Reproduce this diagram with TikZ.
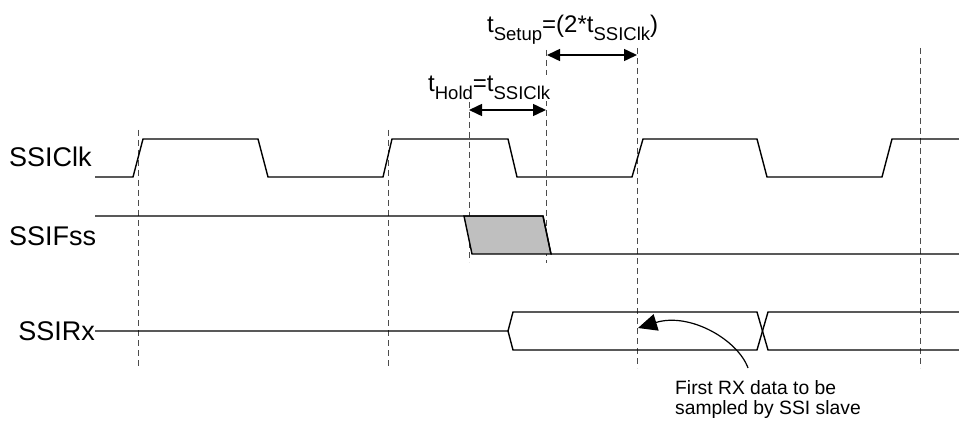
\documentclass[tikz,border=0pt]{standalone}
\usepackage{fontspec}
\setmainfont{Liberation Sans}
\usetikzlibrary{arrows.meta}
\newcommand{\lowsub}[1]{\raisebox{-7.5pt}{\fontsize{18.5}{18.5}\selectfont #1}}
\begin{document}
\begin{tikzpicture}[x=1pt,y=-1pt,
  wave/.style={line width=1.4pt, line join=miter, black},
  guide/.style={line width=0.9pt, dash pattern=on 6pt off 4pt, black!70},
  dimarrow/.style={line width=1.5pt, {Triangle[length=13pt,width=12pt]}-{Triangle[length=13pt,width=12pt]}},
  sig/.style={font=\fontsize{27}{27}\selectfont, anchor=base west, inner sep=0pt},
  tlabel/.style={font=\fontsize{24}{24}\selectfont, anchor=base west, inner sep=1pt, fill=white},
  note/.style={font=\fontsize{19.3}{20}\selectfont, anchor=north west, inner sep=0pt, align=left},
  shade/.style={fill=black!25, draw=black, line width=1.4pt}
]
\useasboundingbox (0,0) rectangle (959,425);
\fill[white] (0,0) rectangle (959,425);

% guide lines
\draw[guide] (138,130) -- (138,368);
\draw[guide] (388,130) -- (388,368);
\draw[guide] (469,102) -- (469,262);
\draw[guide] (546,50) -- (546,263);
\draw[guide] (637,48) -- (637,368);
\draw[guide] (920,48) -- (920,368);

% SSIClk
\draw[wave] (95,177) -- (133,177) -- (143,139) -- (258,139) -- (268,177) -- (383,177) -- (392,139)
  -- (508,139) -- (517,177) -- (632,177) -- (643,139) -- (757,139) -- (767,177) -- (882,177)
  -- (892,139) -- (959,139);

% SSIFss
\draw[shade] (464,216) -- (543,216) -- (551,254) -- (472,254) -- cycle;
\draw[wave] (95,216) -- (543,216) -- (551,254) -- (959,254);

% SSIRx
\draw[wave] (95,331) -- (508,331) -- (513,312) -- (757,312) -- (768,350) -- (959,350);
\draw[wave] (508,331) -- (513,350) -- (757,350) -- (768,312) -- (959,312);

% labels
\node[sig] (clk) at (9,167) {SSIClk};
\node[sig] (fss) at (9,245) {SSIFss};
\node[sig, anchor=base east] (rx) at (95,340) {SSIRx};

\node[tlabel] (setup) at (486,33) {t\lowsub{Setup}=(2*t\lowsub{SSIClk})};
\node[tlabel] (hold) at (427,92) {t\lowsub{Hold}=t\lowsub{SSIClk}};

% dimension arrows
\coordinate (sL) at (547,55);
\coordinate (sR) at (637,55);
\coordinate (hL) at (469,110);
\coordinate (hR) at (546,110);
\draw[dimarrow] (sL) -- (sR);
\draw[dimarrow] (hL) -- (hR);

% note
\node[note] (nt) at (675,380) {First RX data to be\\sampled by SSI slave};
\coordinate (tail) at (748,368);
\coordinate (tip) at (638,328);
\draw[line width=1.2pt, -{Triangle[length=19pt,width=17pt]}] (tail) .. controls (738,340) and (690,312) .. (tip);
\end{tikzpicture}
\end{document}
